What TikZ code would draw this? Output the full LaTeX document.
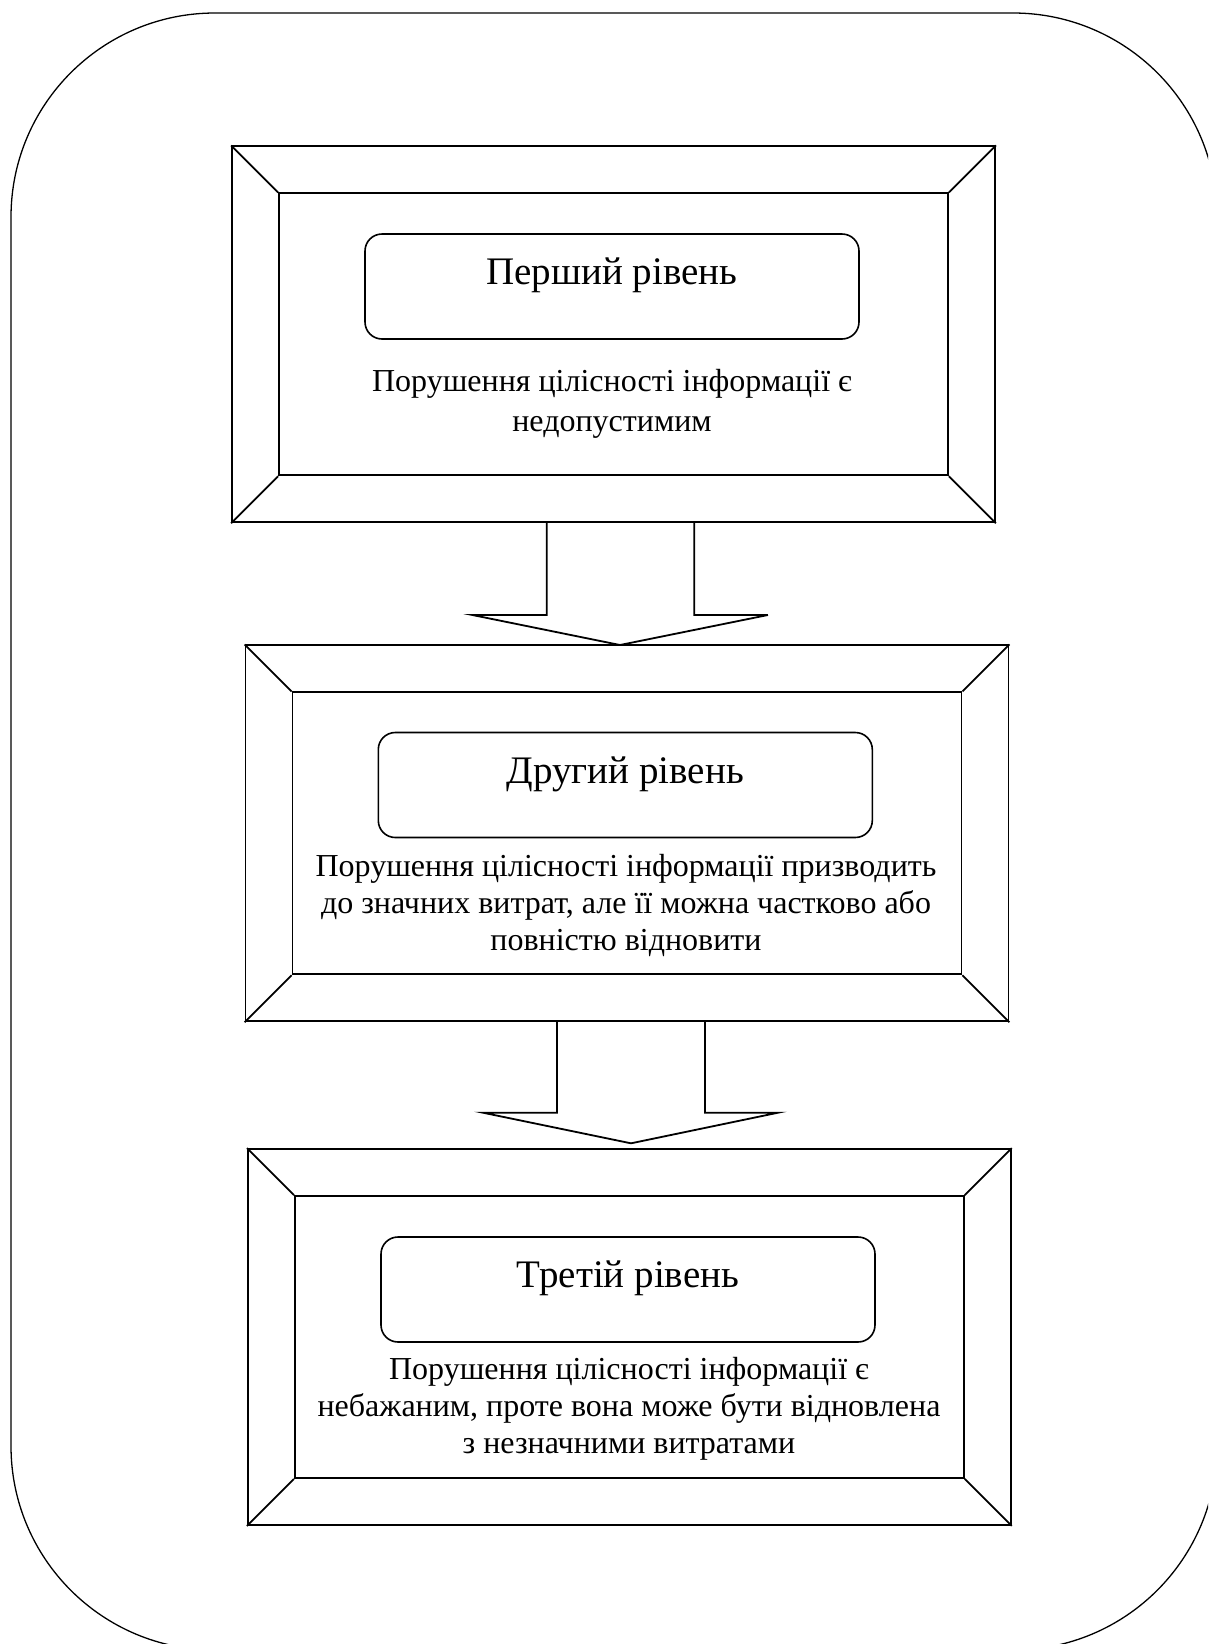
\documentclass[tikz,border=0pt]{standalone}
\usepackage{fontspec}
\setmainfont{Liberation Serif}
\usetikzlibrary{calc}
\begin{document}
\begin{tikzpicture}[x=1pt,y=-1pt,
  frame/.style={draw, line width=1.3pt, rounded corners=204pt},
  outerbox/.style={draw, line width=1.8pt, inner sep=0pt, minimum width=763pt, minimum height=376pt},
  innerbox/.style={draw, line width=1.8pt, inner sep=0pt, minimum width=669pt, minimum height=282pt},
  titlebox/.style={draw, line width=1.6pt, inner sep=0pt, rounded corners=17pt, minimum width=494pt, minimum height=105pt},
  titletext/.style={inner sep=0pt, anchor=base, font=\fontsize{39}{45}\selectfont},
  desctext/.style={inner sep=0pt, anchor=north, align=center, font=\fontsize{32}{37}\selectfont},
  blockarrow/.style={draw, line width=1.8pt, line join=miter}
]
\useasboundingbox (0,0) rectangle (1208,1644);
\begin{scope}
\clip (0,0) rectangle (1208,1644);
\draw[frame] (11,13) rectangle (1217,1650);
\end{scope}

% level 1
\node[outerbox] (b1) at (613.5,334.3) {};
\node[innerbox] (b1i) at (613.5,334.3) {};
\foreach \c in {north west,north east,south west,south east} \draw[line width=1.8pt] (b1.\c) -- (b1i.\c);
\node[titlebox] (r1) at (612,286.5) {};
\node[titletext] (t1) at (612,284) {Перший рівень};
\node[desctext, font=\fontsize{32}{40}\selectfont] (d1) at (612,363.7) {\strut Порушення цілісності інформації є\\недопустимим};

% level 2
\node[outerbox] (b2) at (627,833.3) {};
\node[innerbox] (b2i) at (627,833.3) {};
\foreach \c in {north west,north east,south west,south east} \draw[line width=1.8pt] (b2.\c) -- (b2i.\c);
\node[titlebox] (r2) at (625.3,785) {};
\node[titletext] (t2) at (625.3,783) {Другий рівень};
\node[desctext] (d2) at (626,850.8) {\strut Порушення цілісності інформації призводить\\до значних витрат, але її можна частково або\\повністю відновити};

% level 3
\node[outerbox] (b3) at (629.3,1337) {};
\node[innerbox] (b3i) at (629.3,1337) {};
\foreach \c in {north west,north east,south west,south east} \draw[line width=1.8pt] (b3.\c) -- (b3i.\c);
\node[titlebox] (r3) at (628,1289.5) {};
\node[titletext] (t3) at (628,1287) {Третій рівень};
\node[desctext] (d3) at (629,1353.1) {\strut Порушення цілісності інформації є\\небажаним, проте вона може бути відновлена\\з незначними витратами};

% arrow 1
\coordinate (a1sl) at (546.7,615);
\coordinate (a1sr) at (694.2,615);
\coordinate (a1hl) at (472.4,615);
\coordinate (a1hr) at (767.9,615);
\coordinate (a1t) at (620,645);
\draw[blockarrow] (b1.south -| a1sl) -- (a1sl) -- (a1hl) -- (a1t) -- (a1hr) -- (a1sr) -- (b1.south -| a1sr);

% arrow 2
\coordinate (a2sl) at (557,1112.7);
\coordinate (a2sr) at (705,1112.7);
\coordinate (a2hl) at (483,1112.7);
\coordinate (a2hr) at (778,1112.7);
\coordinate (a2t) at (631,1143.3);
\draw[blockarrow] (b2.south -| a2sl) -- (a2sl) -- (a2hl) -- (a2t) -- (a2hr) -- (a2sr) -- (b2.south -| a2sr);
\end{tikzpicture}
\end{document}
